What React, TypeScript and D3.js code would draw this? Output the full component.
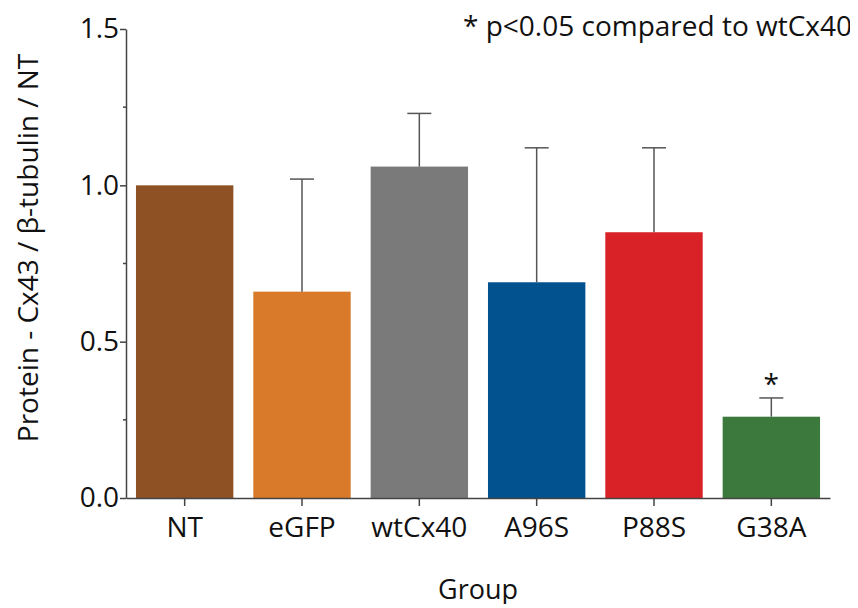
import { useRef, useEffect } from 'react';
import * as d3 from 'd3';

const groups = ['NT', 'eGFP', 'wtCx40', 'A96S', 'P88S', 'G38A'];
const means = [1.0, 0.66, 1.06, 0.69, 0.85, 0.26];
const upperErr = [1.0, 1.02, 1.23, 1.12, 1.12, 0.32];
const barColors = ['#8d5123', '#d9792a', '#7a7a7a', '#02528f', '#d92128', '#3b7a3c'];
const significant = ['G38A'];
const yTicks = [0, 0.5, 1.0, 1.5];

export default function App() {
  const svgRef = useRef<SVGSVGElement>(null);

  useEffect(() => {
    if (!svgRef.current) return;

    const width = 858;
    const height = 608;
    const margin = { top: 29, right: 28, bottom: 110, left: 126 };
    const font = '"Open Sans", sans-serif';

    const svg = d3.select(svgRef.current)
      .attr('width', width)
      .attr('height', height);

    svg.selectAll('*').remove();

    const x = d3.scaleBand()
      .domain(groups)
      .range([margin.left, width - margin.right])
      .paddingInner(0.17)
      .paddingOuter(0.085);

    const y = d3.scaleLinear()
      .domain([0, 1.5])
      .range([height - margin.bottom, margin.top]);

    const rows = groups.map((g, i) => ({ g, mean: means[i], err: upperErr[i], color: barColors[i] }));

    // bars
    svg.append('g')
      .selectAll('rect')
      .data(rows)
      .join('rect')
      .attr('x', d => x(d.g)!)
      .attr('y', d => y(d.mean))
      .attr('width', x.bandwidth())
      .attr('height', d => y(0) - y(d.mean))
      .attr('fill', d => d.color);

    // upper error bars
    const capHalf = 12;
    const eb = svg.append('g')
      .attr('stroke', '#555')
      .attr('stroke-width', 1.5)
      .selectAll('g')
      .data(rows.filter(d => d.err > d.mean))
      .join('g');
    eb.append('line')
      .attr('x1', d => x(d.g)! + x.bandwidth() / 2)
      .attr('x2', d => x(d.g)! + x.bandwidth() / 2)
      .attr('y1', d => y(d.mean))
      .attr('y2', d => y(d.err));
    eb.append('line')
      .attr('x1', d => x(d.g)! + x.bandwidth() / 2 - capHalf)
      .attr('x2', d => x(d.g)! + x.bandwidth() / 2 + capHalf)
      .attr('y1', d => y(d.err))
      .attr('y2', d => y(d.err));

    // significance stars
    svg.append('g')
      .selectAll('text')
      .data(rows.filter(d => significant.includes(d.g)))
      .join('text')
      .attr('x', d => x(d.g)! + x.bandwidth() / 2)
      .attr('y', d => y(d.err) - 4)
      .attr('text-anchor', 'middle')
      .attr('font-family', font)
      .attr('font-size', 28)
      .attr('fill', '#111')
      .text('*');

    // axes
    const xAxis = svg.append('g')
      .attr('transform', `translate(0,${y(0)})`)
      .call(d3.axisBottom(x).tickSize(8).tickSizeOuter(0));
    xAxis.select('.domain').attr('stroke', '#444').attr('stroke-width', 1.5);
    xAxis.selectAll('.tick line').attr('stroke', '#444').attr('stroke-width', 1.5);
    xAxis.selectAll('.tick text')
      .attr('font-family', font)
      .attr('font-size', 28)
      .attr('fill', '#111')
      .attr('y', 39)
      .attr('dy', 0);

    const yAxis = svg.append('g')
      .attr('transform', `translate(${margin.left},0)`)
      .call(d3.axisLeft(y).tickValues(yTicks).tickFormat(d3.format('.1f')).tickSize(6).tickSizeOuter(0));
    yAxis.select('.domain').attr('stroke', '#444').attr('stroke-width', 1.5);
    yAxis.selectAll('.tick line').attr('stroke', '#444').attr('stroke-width', 1.5);
    yAxis.selectAll('.tick text')
      .attr('font-family', font)
      .attr('font-size', 28)
      .attr('fill', '#111')
      .attr('x', -7);

    // minor ticks
    yAxis.append('g')
      .selectAll('line')
      .data([0.25, 0.75, 1.25])
      .join('line')
      .attr('x1', -3)
      .attr('x2', 0)
      .attr('y1', d => y(d))
      .attr('y2', d => y(d))
      .attr('stroke', '#444')
      .attr('stroke-width', 1.5);

    // axis titles
    svg.append('text')
      .attr('x', (margin.left + width - margin.right) / 2)
      .attr('y', 599)
      .attr('text-anchor', 'middle')
      .attr('font-family', font)
      .attr('font-size', 27)
      .attr('fill', '#111')
      .text('Group');

    // y title sized to span the same height as in the source figure
    const yTitle = svg.append('text')
      .attr('transform', 'translate(38,248) rotate(-90)')
      .attr('text-anchor', 'middle')
      .attr('font-family', font)
      .attr('font-size', 25)
      .attr('fill', '#111')
      .text('Protein - Cx43 / β-tubulin / NT');
    const len = (yTitle.node() as SVGTextElement).getComputedTextLength();
    if (len > 0) yTitle.attr('font-size', Math.min(28, 25 * 391 / len));

    // annotation
    svg.append('text')
      .attr('x', 852)
      .attr('y', 36)
      .attr('text-anchor', 'end')
      .attr('font-family', font)
      .attr('font-size', 28)
      .attr('fill', '#111')
      .text('* p<0.05 compared to wtCx40');
  }, []);

  return (
    <div style={{ margin: -8 }}>
      <svg ref={svgRef}></svg>
    </div>
  );
}
